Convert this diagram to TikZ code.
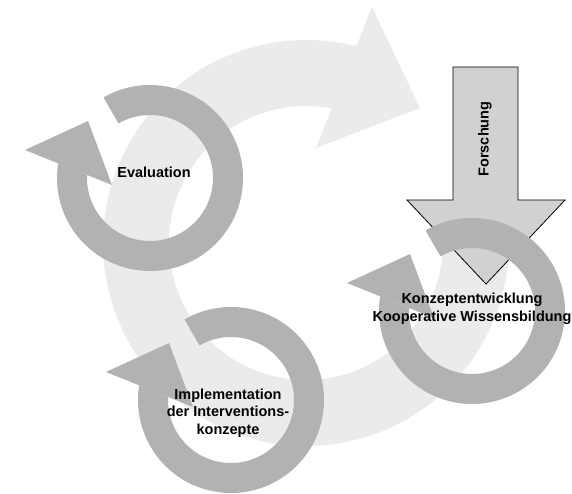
\documentclass[tikz,border=0pt]{standalone}
\usepackage{fontspec}
\setmainfont{Liberation Sans}
\usepackage{xcolor}
\usepackage{tikz}
\usetikzlibrary{positioning, calc}

\definecolor{ringgray}{RGB}{177,178,180}
\definecolor{cyclegray}{RGB}{235,235,235}
\definecolor{researchgray}{RGB}{209,209,209}

\tikzset{
	ring/.style={fill=ringgray, draw=none}
}
\tikzset{
	bigcycle/.style={fill=cyclegray, draw=none}
}
\tikzset{
	research/.style={fill=researchgray, draw=black, line width=0.8pt, line join=miter}
}
\tikzset{
	phasetext/.style={font=\bfseries\fontsize{14.5}{17.5}\selectfont, align=center, inner sep=0pt}
}

\begin{document}
\begin{tikzpicture}[x=1pt, y=1pt]

		% page frame
		\useasboundingbox (0,0) rectangle (572,493);

		% big cycle (centre and radii)
		\newcommand{\cyclex}{306}
		\newcommand{\cycley}{250}
		\newcommand{\cycleouter}{203}
		\newcommand{\cycleinner}{137}

		% small cycles
		\newcommand{\ringouter}{93}
		\newcommand{\ringinner}{63}

		\coordinate (cyclecenter) at (\cyclex, \cycley);
		\coordinate (evalcenter) at (150, 315);
		\coordinate (implcenter) at (231, 93);
		\coordinate (konzcenter) at (472, 182);

		% one small cycle arrow round a centre
		\newcommand{\cyclering}[1]{
			\begin{scope}[shift={(#1)}]
				\fill[ring] (120:\ringouter) arc[start angle=120, end angle=-189.1, radius=\ringouter]
					-- (-182.7:\ringinner) arc[start angle=-182.7, end angle=120, radius=\ringinner] -- cycle;
				\fill[ring] (-125,28) -- (-62,57) -- (-38,-7) -- cycle;
			\end{scope}
		}

		% big cycle: band and head
		\begin{scope}[shift={(cyclecenter)}]
			\fill[bigcycle] (8:\cycleouter) arc[start angle=8, end angle=-284.4, radius=\cycleouter]
				-- (-281.7:\cycleinner) arc[start angle=-281.7, end angle=8, radius=\cycleinner] -- cycle;
		\end{scope}
		\fill[bigcycle] (372,486) -- (420,385) -- (316,345) -- cycle;

		% research arrow
		\draw[research] (453,426) -- (518,426) -- (518,293) -- (565,293) -- (486,209)
			-- (407,293) -- (453,293) -- cycle;
		\node[phasetext, rotate=90] (forsch) at (485,354) {Forschung};

		% small cycles
		\cyclering{evalcenter}
		\cyclering{implcenter}
		\cyclering{konzcenter}

		% labels
		\node[phasetext] (eval) at (154,321) {Evaluation};
		\node[phasetext] (konz) at (472,184) {Konzeptentwicklung\\Kooperative Wissensbildung};
		\node[phasetext] (impl) at (228,80) {Implementation\\der Interventions-\\konzepte};

	\end{tikzpicture}
\end{document}
